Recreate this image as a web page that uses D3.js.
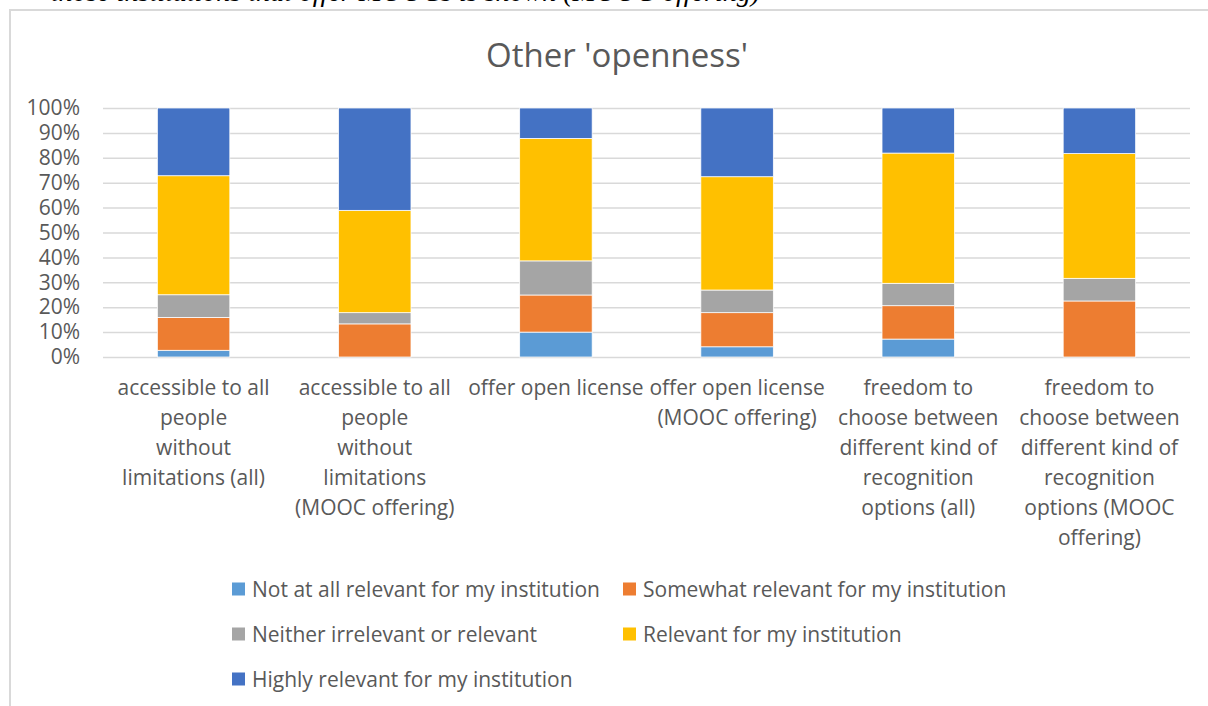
<!DOCTYPE html>
<html>
<head>
<meta charset="utf-8">
<script src="https://cdn.jsdelivr.net/npm/d3@7"></script>
<style>
  body { margin: 0; background: #fff; }
  svg text { font-family: "Open Sans", sans-serif; fill: #595959; }
</style>
</head>
<body>
<svg id="chart" width="1208" height="706"></svg>
<script>
// categories (one array of wrapped lines per bar)
const categories = [
  ["accessible to all", "people", "without", "limitations (all)"],
  ["accessible to all", "people", "without", "limitations", "(MOOC offering)"],
  ["offer open license"],
  ["offer open license", "(MOOC offering)"],
  ["freedom to", "choose between", "different kind of", "recognition", "options (all)"],
  ["freedom to", "choose between", "different kind of", "recognition", "options (MOOC", "offering)"]
];

const seriesNames = [
  "Not at all relevant for my institution",
  "Somewhat relevant for my institution",
  "Neither irrelevant or relevant",
  "Relevant for my institution",
  "Highly relevant for my institution"
];
const seriesColors = ["#5B9BD5", "#ED7D31", "#A5A5A5", "#FFC000", "#4472C4"];

// shares in percent
const notAtAll = [2.7, 0, 10.0, 4.1, 7.2, 0];
const somewhat = [13.2, 13.3, 14.9, 13.7, 13.4, 22.5];
const neither  = [9.1, 4.5, 13.7, 9.1, 9.0, 9.1];
const relevant = [47.8, 41.1, 49.2, 45.5, 52.3, 50.1];
const highly   = [27.2, 41.1, 12.2, 27.6, 18.1, 18.3];

const yTicks = [0, 0.1, 0.2, 0.3, 0.4, 0.5, 0.6, 0.7, 0.8, 0.9, 1];

const allSeries = [notAtAll, somewhat, neither, relevant, highly];
const rows = categories.map((c, i) => {
  const r = { idx: i };
  seriesNames.forEach((s, k) => { r[s] = allSeries[k][i] / 100; });
  return r;
});

const svg = d3.select("#chart");

// text of the page above the chart, mostly cut off
svg.append("text")
  .attr("x", 760)
  .attr("y", 1)
  .attr("text-anchor", "end")
  .style("font-family", "'Liberation Serif', serif")
  .style("font-style", "italic")
  .style("font-size", "28px")
  .style("fill", "#000")
  .text("those institutions that offer MOOCs is shown (MOOC offering)");

// chart frame
svg.append("path")
  .attr("d", "M10,706 L10,10 L1208,10")
  .attr("fill", "none")
  .attr("stroke", "#d9d9d9")
  .attr("stroke-width", 2);

svg.append("text")
  .attr("x", 617)
  .attr("y", 67)
  .attr("text-anchor", "middle")
  .style("font-size", "33px")
  .text("Other 'openness'");

const plotLeft = 103, plotRight = 1190, plotTop = 108, plotBottom = 357;

const x = d3.scaleBand()
  .domain(categories.map((c, i) => i))
  .range([plotLeft, plotRight])
  .paddingInner(0.6)
  .paddingOuter(0.3);

const y = d3.scaleLinear().domain([0, 1]).range([plotBottom, plotTop]);

// gridlines
svg.append("g")
  .attr("transform", `translate(${plotLeft},0)`)
  .call(d3.axisLeft(y).tickValues(yTicks).tickSize(-(plotRight - plotLeft)).tickFormat(""))
  .call(g => g.select(".domain").remove())
  .call(g => g.selectAll("line").attr("stroke", "#d9d9d9").attr("stroke-width", 1.5));

// y labels
svg.append("g")
  .attr("transform", `translate(${plotLeft},0)`)
  .call(d3.axisLeft(y).tickValues(yTicks).tickSize(0).tickPadding(23).tickFormat(d3.format(".0%")))
  .call(g => g.select(".domain").remove())
  .call(g => g.selectAll("text").style("font-size", "21px").style("font-family", "'Open Sans', sans-serif").attr("fill", "#595959"));

// stacked bars
const stacked = d3.stack().keys(seriesNames)(rows);
svg.append("g")
  .selectAll("g")
  .data(stacked)
  .join("g")
  .attr("fill", (d, i) => seriesColors[i])
  .selectAll("rect")
  .data(d => d)
  .join("rect")
  .attr("x", d => x(d.data.idx))
  .attr("width", x.bandwidth())
  .attr("y", d => y(d[1]))
  .attr("height", d => y(d[0]) - y(d[1]))
  .attr("stroke", "#fff")
  .attr("stroke-width", d => (d[1] - d[0]) > 0 ? 0.75 : 0);

// category labels
const catG = svg.append("g");
categories.forEach((lines, i) => {
  const t = catG.append("text")
    .attr("x", x(i) + x.bandwidth() / 2)
    .attr("y", 395)
    .attr("text-anchor", "middle")
    .style("font-size", "21px");
  lines.forEach((l, j) => {
    t.append("tspan")
      .attr("x", x(i) + x.bandwidth() / 2)
      .attr("dy", j === 0 ? 0 : 30)
      .text(l);
  });
});

// legend
const legendPos = [[232, 589], [623, 589], [232, 634], [623, 634], [232, 679]];
const legend = svg.append("g")
  .selectAll("g")
  .data(seriesNames)
  .join("g")
  .attr("transform", (d, i) => `translate(${legendPos[i][0]},${legendPos[i][1]})`);
legend.append("rect")
  .attr("x", 0)
  .attr("y", -6.5)
  .attr("width", 13)
  .attr("height", 13)
  .attr("fill", (d, i) => seriesColors[i]);
legend.append("text")
  .attr("x", 20)
  .attr("y", 7.5)
  .style("font-size", "21px")
  .text(d => d);
</script>
</body>
</html>
